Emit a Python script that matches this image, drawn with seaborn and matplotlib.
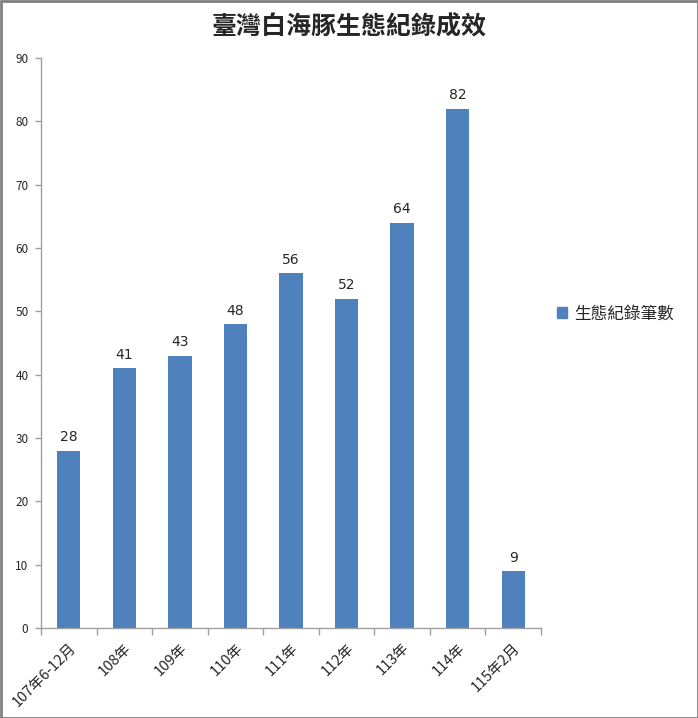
import pandas as pd
import numpy as np
import seaborn as sns
import matplotlib.pyplot as plt
from matplotlib.patches import Rectangle

periods = ['107年6-12月', '108年', '109年', '110年', '111年', '112年', '113年', '114年', '115年2月']
counts = [28, 41, 43, 48, 56, 52, 64, 82, 9]
series_name = '生態紀錄筆數'
title = '臺灣白海豚生態紀錄成效'

sns.set_style('white')
plt.rcParams['font.family'] = ['Noto Sans CJK TC', 'DejaVu Sans']

df = pd.DataFrame({'period': periods, 'count': counts})

fig = plt.figure(figsize=(6.98, 7.18), dpi=100)
ax = fig.add_axes([41/698, 90/718, 500/698, 570/718])

sns.barplot(data=df, x='period', y='count', color='#4F81BD', width=0.42,
            saturation=1, ax=ax, edgecolor='none')

for i, v in enumerate(counts):
    ax.text(i, v + 1.0, str(v), ha='center', va='bottom', fontsize=10,
            family=['DejaVu Sans'])

ax.set_ylim(0, 90)
ax.set_xlim(-0.5, len(periods) - 0.5)
ax.set_yticks(np.arange(0, 91, 10))
ax.tick_params(axis='y', labelsize=8.5, length=4, width=1, color='#A0A0A0', direction='out', left=True, pad=5)
# category separators as major ticks, labels on minor ticks
ax.set_xticks(np.arange(-0.5, len(periods), 1))
ax.set_xticklabels([])
ax.set_xticks(np.arange(len(periods)), minor=True)
ax.set_xticklabels(periods, minor=True, rotation=45, ha='right', rotation_mode='anchor', fontsize=10.5)
ax.tick_params(axis='x', which='major', length=5, width=1, color='#A0A0A0', bottom=True)
ax.tick_params(axis='x', which='minor', length=0, pad=9)
ax.set_xlabel('')
ax.set_ylabel('')
for s in ['top', 'right']:
    ax.spines[s].set_visible(False)
for s in ['left', 'bottom']:
    ax.spines[s].set_color('#A0A0A0')
    ax.spines[s].set_linewidth(1)

fig.text(0.5, 1 - 27/718, title, ha='center', va='center', fontsize=18, fontweight='bold')

handle = Rectangle((0, 0), 1, 1, color='#4F81BD')
fig.legend([handle], [series_name], loc='center left', bbox_to_anchor=(542/698, 1 - 314/718),
           frameon=False, fontsize=12, handlelength=0.6, handleheight=0.6, handletextpad=0.4)

fig.patches.append(Rectangle((0.5/698, 0.5/718), 1 - 1/698, 1 - 1/718, transform=fig.transFigure,
                             fill=False, edgecolor='#808080', linewidth=2))

fig.savefig('out.png', dpi=100)
